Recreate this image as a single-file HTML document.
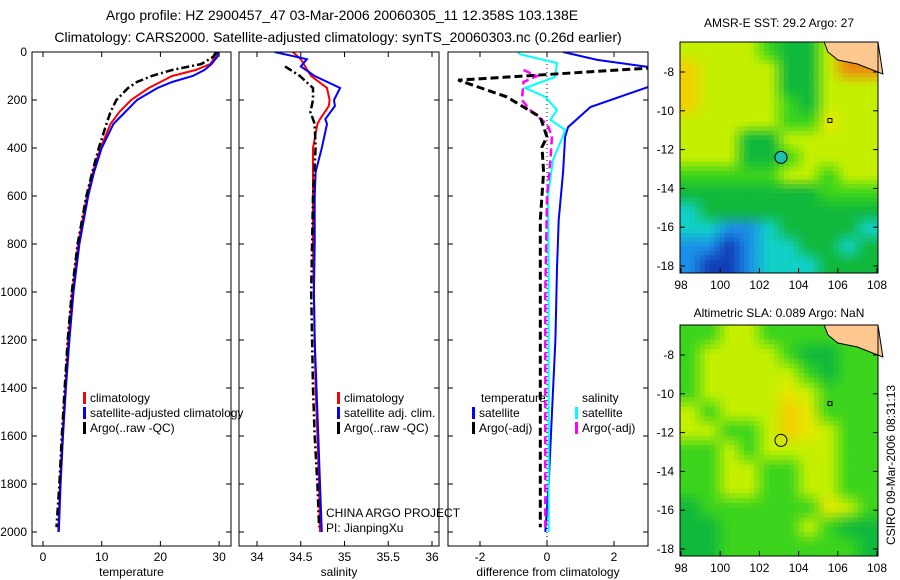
<!DOCTYPE html>
<html><head><meta charset="utf-8"><style>
body{margin:0;background:#fff;width:900px;height:580px;overflow:hidden}
svg{display:block;font-family:"Liberation Sans",sans-serif}
</style></head><body>
<svg id="c" width="900" height="580" xmlns="http://www.w3.org/2000/svg">
<text x="342" y="20" font-size="14" text-anchor="middle">Argo profile: HZ 2900457_47 03-Mar-2006 20060305_11 12.358S 103.138E</text>
<text x="338" y="42" font-size="14" text-anchor="middle">Climatology: CARS2000. Satellite-adjusted climatology: synTS_20060303.nc (0.26d earlier)</text>
<text x="779" y="27" font-size="12" text-anchor="middle">AMSR-E SST: 29.2 Argo: 27</text>
<text x="779" y="317" font-size="12" text-anchor="middle">Altimetric SLA: 0.089 Argo: NaN</text>
<text transform="translate(895,465) rotate(-90)" font-size="12" text-anchor="middle">CSIRO 09-Mar-2006 08:31:13</text>
<text x="326" y="517" font-size="12">CHINA ARGO PROJECT</text>
<text x="326" y="532" font-size="12">PI: JianpingXu</text>
</svg>
<script>
// ---------- data ----------
const depthT = [0,20,50,75,100,125,150,200,250,300,400,500,600,800,1000,1200,1400,1600,1800,2000];
const tempClim = [29.5,29.3,28.5,26,22,20,18,15,13,11.5,9.8,8.5,7.5,6,5,4.3,3.8,3.3,2.9,2.6];
const tempSat  = [29.8,29.7,28.7,27.5,25.5,22,19.5,16,14,12,10,8.7,7.7,6.2,5.2,4.5,3.9,3.4,3.0,2.7];
const depthArgo = [0,20,50,75,100,125,150,200,250,300,400,500,600,800,1000,1200,1400,1600,1800,1980];
const tempArgo = [29.5,29,27,22,18.5,16,14.5,12.5,11.5,10.8,9.5,8.4,7.4,5.9,4.9,4.2,3.7,3.2,2.8,2.3];
const depthS = [0,30,60,100,150,200,225,280,300,400,500,600,800,1000,1200,1400,1600,1800,2000];
const salClim = [34.41,34.5,34.55,34.62,34.8,34.83,34.82,34.72,34.69,34.64,34.64,34.64,34.64,34.65,34.66,34.67,34.69,34.71,34.72];
const salSat  = [34.2,34.57,34.5,34.66,34.95,34.88,34.89,34.78,34.8,34.74,34.67,34.66,34.66,34.65,34.66,34.68,34.70,34.72,34.74];
const depthSA = [60,100,150,200,250,300,400,600,800,1000,1200,1400,1600,1800,1980];
const salArgo = [34.32,34.49,34.64,34.64,34.61,34.66,34.67,34.64,34.63,34.62,34.63,34.64,34.66,34.69,34.71];
const depthDT = [0,33,66,137,229,313,354,500,700,900,1200,1500,1800,2000];
const diffTSat = [0.48,1.5,3.2,3.2,1.3,0.63,0.54,0.48,0.35,0.3,0.25,0.15,0.05,-0.05];
const depthDA = [66,117,187,271,354,396,500,700,1000,1400,1800,1980];
const diffTArgo = [3.2,-2.65,-1.2,-0.2,0,-0.15,-0.1,-0.2,-0.2,-0.2,-0.2,-0.2];
const depthDS = [0,10,46,104,150,187,242,283,325,360,450,600,900,1200,1600,2000];
const diffSSat = [-0.87,-0.8,0.3,0.24,-0.65,-0.05,0.3,0.1,0.55,0.45,0.18,0.03,0.05,0.05,0.05,0.05];
const depthDSA = [75,100,125,200,250,300,350,450,600,1000,1400,1800,1980];
const diffSArgo = [-0.7,-0.3,-0.7,-0.75,-0.45,0,0.15,0.1,0,-0.05,-0.05,-0.05,-0.05];
const depthTicks = [0,200,400,600,800,1000,1200,1400,1600,1800,2000];
const tempTicks = [0,10,20,30];
const salTicks = [34,34.5,35,35.5,36];
const diffTicks = [-2,0,2];
const lonTicks = [98,100,102,104,106,108];
const latTicks = [-8,-10,-12,-14,-16,-18];
const sstGrid = ["yyyygGGyoL","OyyyyGGyoo","OyyyyGGyyy","OyyyygGyyy","yyyyyggYyy","yyyGGyyyyy","yyyGGgyyyy","gggggyygyy","GGGGGGGggg","cGGGGGGGGG","ccbbcGGGGc","bbBbccGGcG","bBBbcccGGG"];
const slaGrid = ["ggyyggggLL","gyyyygGGgg","gyyyyygGgg","gyyyyYyggg","ygyyyOYggg","yyggyOYygg","ggygyyyygg","ggyyggyygg","ggyyggyygg","GggggggYyg","GGggggygGG","GGgggggggG"];

const NS="http://www.w3.org/2000/svg", svg=document.getElementById('c');
function el(t,a,p){const e=document.createElementNS(NS,t);for(const k in a)e.setAttribute(k,a[k]);(p||svg).appendChild(e);return e;}
const yD=d=>52+d*0.24;
const panels=[
 {x0:32,x1:231,fx:v=>43+v*5.87,ticks:tempTicks,lab:"temperature",name:"temperature-panel",ylab:true},
 {x0:239,x1:439,fx:v=>257+(v-34)*87.5,ticks:salTicks,lab:"salinity",name:"salinity-panel"},
 {x0:448,x1:648,fx:v=>547+v*33.5,ticks:diffTicks,lab:"difference from climatology",name:"difference-panel"}];
panels.forEach(p=>{
 const g=el('g',{});
 
 
 const cp=el('clipPath',{id:'cp'+p.x0},g);el('rect',{x:p.x0,y:52,width:p.x1-p.x0,height:494},cp);
 p.g=el('g',{'clip-path':'url(#cp'+p.x0+')'},g);
 el('rect',{x:p.x0,y:52,width:p.x1-p.x0,height:494,fill:'none',stroke:'#000','stroke-width':1},g);
 p.ticks.forEach(v=>{const x=p.fx(v);
  el('line',{x1:x,x2:x,y1:546,y2:541,stroke:'#000'},g);el('line',{x1:x,x2:x,y1:52,y2:57,stroke:'#000'},g);
  const t=el('text',{x:x,y:561,'font-size':12,'text-anchor':'middle'},g);t.textContent=v;});
 depthTicks.forEach(d=>{const y=yD(d);
  el('line',{x1:p.x0,x2:p.x0+5,y1:y,y2:y,stroke:'#000'},g);el('line',{x1:p.x1,x2:p.x1-5,y1:y,y2:y,stroke:'#000'},g);
  if(p.ylab){const t=el('text',{x:27,y:y+4,'font-size':12,'text-anchor':'end'},g);t.textContent=d;}});
 const t=el('text',{x:(p.x0+p.x1)/2,y:576,'font-size':12,'text-anchor':'middle'},g);t.textContent=p.lab;
});
function line(p,depths,vals,col,w,dash,name){
 const pts=depths.map((d,i)=>p.fx(vals[i]).toFixed(1)+','+yD(d).toFixed(1)).join(' ');
 const e=el('polyline',{points:pts,fill:'none',stroke:col,'stroke-width':w},p.g);
 if(dash)e.setAttribute('stroke-dasharray',dash);
 
 
}
line(panels[0],depthT,tempClim,'#f00',2,null,'temp-climatology-line');
line(panels[0],depthT,tempSat,'#00f',2,null,'temp-satellite-line');
line(panels[0],depthArgo,tempArgo,'#000',2.5,'8,3,2,3','temp-argo-line');
line(panels[1],depthS,salClim,'#f00',2,null,'sal-climatology-line');
line(panels[1],depthS,salSat,'#00f',2,null,'sal-satellite-line');
line(panels[1],depthSA,salArgo,'#000',2.5,'8,3,2,3','sal-argo-line');
el('line',{x1:547,x2:547,y1:52,y2:546,stroke:'#000','stroke-dasharray':'1,3'},panels[2].g);
line(panels[2],depthDT,diffTSat,'#00f',2,null,'diff-temp-satellite-line');
line(panels[2],depthDS,diffSSat,'#0ff',2,null,'diff-sal-satellite-line');
line(panels[2],depthDSA,diffSArgo,'#f0f',2.5,'8,4','diff-sal-argo-line');
line(panels[2],depthDA,diffTArgo,'#000',3,'8,4','diff-temp-argo-line');
function leg(x,y,col,txt,name){const g=el('g',{});
 
 
 if(col)el('rect',{x:x,y:y-10,width:3,height:12,fill:col},g);
 const t=el('text',{x:x+7,y:y,'font-size':12},g);t.textContent=txt;}
leg(83,402,'#f00','climatology','legend-climatology');
leg(83,417,'#00f','satellite-adjusted climatology','legend-satellite-adjusted');
leg(83,432,'#000','Argo(..raw -QC)','legend-argo');
leg(337,402,'#f00','climatology','legend-sal-climatology');
leg(337,417,'#00f','satellite adj. clim.','legend-sal-satellite');
leg(337,432,'#000','Argo(..raw -QC)','legend-sal-argo');
leg(474,402,null,'temperature','legend-temperature-header');
leg(472,417,'#00f','satellite','legend-diff-temp-satellite');
leg(472,432,'#000','Argo(-adj)','legend-diff-temp-argo');
leg(575,402,null,'salinity','legend-salinity-header');
leg(575,417,'#0ff','satellite','legend-diff-sal-satellite');
leg(575,432,'#f0f','Argo(-adj)','legend-diff-sal-argo');
// ---------- maps ----------
const cols={y:[196,240,0],Y:[232,232,0],O:[240,208,0],o:[240,138,16],g:[60,212,28],G:[16,184,60],c:[16,208,200],b:[28,144,232],B:[16,64,184],L:[60,212,28]};
function map(top,grid,dotFill,name){
 const fx=v=>681+(v-98)*19.6, fy=v=>top+30+(-8-v)*19.4;
 const g=el('g',{});
 
 
 const R=grid.length,C=10,S=4;
 const nx=C*S,ny=R*S,cw=198/nx,ch=231/ny;
 const col=(i,j)=>cols[grid[Math.max(0,Math.min(R-1,i))][Math.max(0,Math.min(C-1,j))]];
 for(let a=0;a<ny;a++)for(let b=0;b<nx;b++){
  const fi=(a+0.5)/S-0.5, fj=(b+0.5)/S-0.5;
  const i0=Math.floor(fi),j0=Math.floor(fj),ti=fi-i0,tj=fj-j0;
  const c00=col(i0,j0),c01=col(i0,j0+1),c10=col(i0+1,j0),c11=col(i0+1,j0+1);
  const rgb=[0,1,2].map(k=>Math.round((c00[k]*(1-tj)+c01[k]*tj)*(1-ti)+(c10[k]*(1-tj)+c11[k]*tj)*ti));
  el('rect',{x:(680+b*cw).toFixed(2),y:(top+a*ch).toFixed(2),width:(cw+0.4).toFixed(2),height:(ch+0.4).toFixed(2),fill:'rgb('+rgb.join(',')+')'},g);
 }
 el('path',{d:`M${fx(105.3)},${top} L${fx(105.5)},${top+10} L${fx(106)},${top+18} L${fx(107)},${top+22} L${fx(108.3)},${top+32} L878,${top}Z`,fill:'#fcc890',stroke:'#000'},g);
 el('rect',{x:fx(105.6)-2,y:fy(-10.5)-2,width:4,height:4,fill:'none',stroke:'#000'},g);
 el('circle',{cx:fx(103.1),cy:fy(-12.4),r:6,fill:dotFill,stroke:'#000'},g);
 el('rect',{x:680,y:top,width:198,height:231,fill:'none',stroke:'#000'},g);
 lonTicks.forEach(v=>{const x=fx(v);el('line',{x1:x,x2:x,y1:top+231,y2:top+226,stroke:'#000'},g);
  const t=el('text',{x:x,y:top+247,'font-size':12,'text-anchor':'middle'},g);t.textContent=v;});
 latTicks.forEach(v=>{const y=fy(v);el('line',{x1:680,x2:685,y1:y,y2:y,stroke:'#000'},g);el('line',{x1:878,x2:873,y1:y,y2:y,stroke:'#000'},g);
  const t=el('text',{x:674,y:y+4,'font-size':12,'text-anchor':'end'},g);t.textContent=v;});
}
map(42,sstGrid,'#20c0b0','sst-map');
map(325,slaGrid,'none','sla-map');
</script>
</body></html>
